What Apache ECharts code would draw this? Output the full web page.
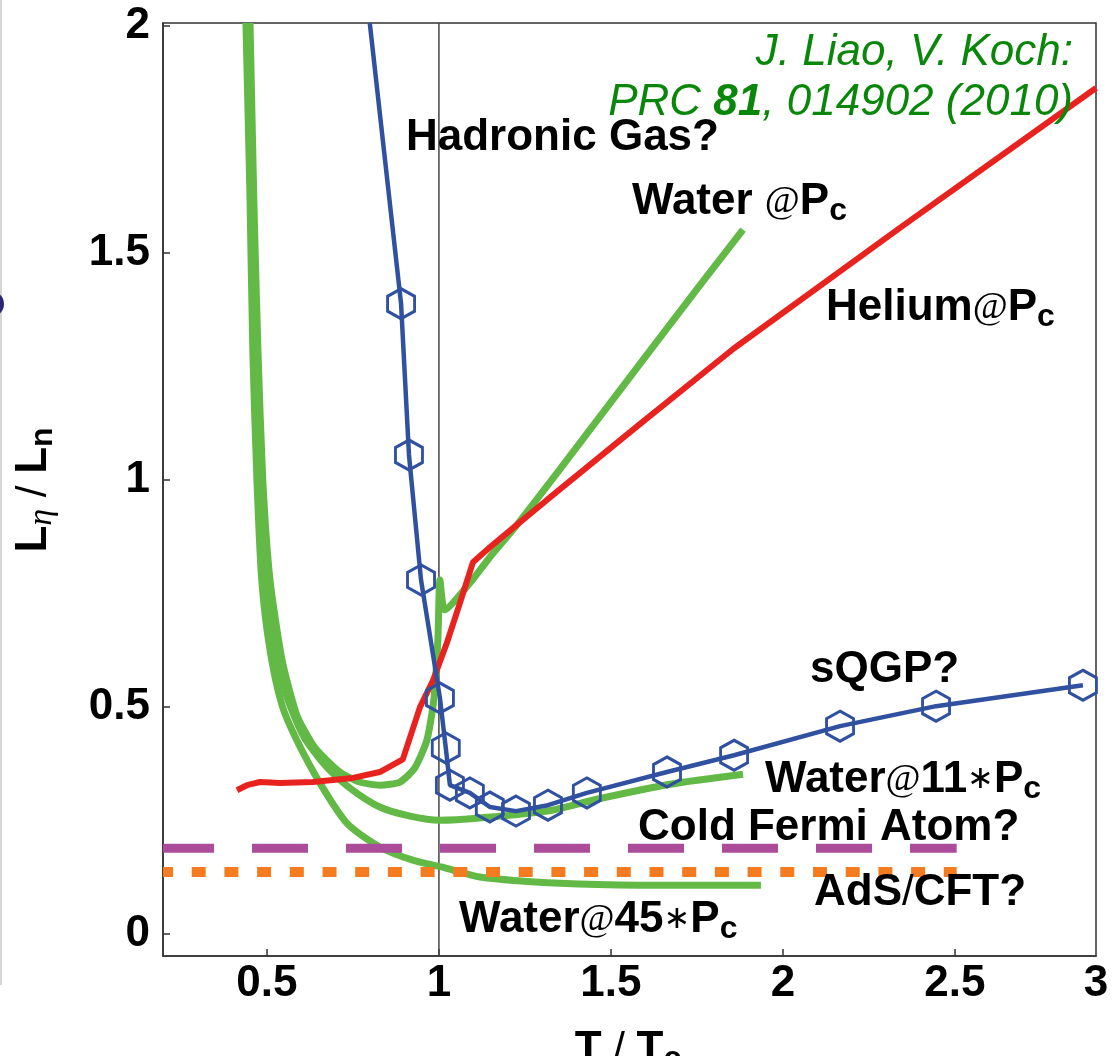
<!DOCTYPE html>
<html><head><meta charset="utf-8">
<script src="https://cdn.jsdelivr.net/npm/echarts@6/dist/echarts.min.js"></script>
<style>html,body{margin:0;padding:0;background:#fff}#c{width:1118px;height:1056px}</style>
</head><body><div id="c"></div>
<script>
// ---- axes ----
const X_MIN = 0.198, X_MAX = 2.91, Y_MIN = -0.048, Y_MAX = 2.006;
const X_TICKS = [0.5, 1, 1.5, 2, 2.5];
const X_LABEL_POS = [0.5, 1, 1.5, 2, 2.5, 2.91];
const X_LABELS = ['0.5', '1', '1.5', '2', '2.5', '3'];
const Y_TICKS = [0, 0.5, 1, 1.5, 2];
const Y_LABELS = ['0', '0.5', '1', '1.5', '2'];

// ---- Water @ Pc (green) ----
const waterPcX = [0.451, 0.462, 0.474, 0.488, 0.509, 0.544, 0.587, 0.640, 0.712, 0.770, 0.828, 0.887, 0.930, 0.965, 0.985, 0.997, 1.003, 1.017, 1.090, 1.148, 1.215, 1.352, 1.596, 1.759, 1.884];
const waterPcY = [2.006, 1.617, 1.286, 1.000, 0.780, 0.604, 0.482, 0.410, 0.357, 0.335, 0.328, 0.335, 0.366, 0.427, 0.515, 0.648, 0.780, 0.714, 0.773, 0.830, 0.890, 1.024, 1.267, 1.429, 1.551];

// ---- Water @ 11*Pc (green) ----
const water11X = [0.465, 0.477, 0.491, 0.515, 0.552, 0.605, 0.669, 0.741, 0.828, 0.916, 1.003, 1.119, 1.314, 1.459, 1.672, 1.884];
const water11Y = [1.291, 1.066, 0.846, 0.670, 0.537, 0.438, 0.372, 0.322, 0.280, 0.260, 0.251, 0.256, 0.271, 0.297, 0.330, 0.352];

// ---- Water @ 45*Pc (green) ----
const water45X = [0.439, 0.451, 0.459, 0.471, 0.485, 0.509, 0.544, 0.587, 0.654, 0.733, 0.828, 0.924, 1.023, 1.119, 1.352, 1.584, 1.936];
const water45Y = [2.006, 1.617, 1.286, 1.000, 0.780, 0.626, 0.504, 0.427, 0.333, 0.244, 0.192, 0.163, 0.145, 0.126, 0.112, 0.108, 0.108];

// ---- Helium @ Pc (red) ----
const heliumX = [0.413, 0.442, 0.480, 0.538, 0.634, 0.750, 0.828, 0.895, 0.945, 0.983, 1.023, 1.061, 1.099, 1.148, 1.215, 1.314, 1.584, 1.858, 2.340, 2.910];
const heliumY = [0.317, 0.328, 0.335, 0.333, 0.335, 0.344, 0.357, 0.385, 0.500, 0.559, 0.641, 0.729, 0.819, 0.852, 0.894, 0.956, 1.123, 1.290, 1.555, 1.863];

// ---- sQGP / Hadronic gas (blue, hexagon markers from index 1) ----
const qgpX = [0.799, 0.890, 0.913, 0.948, 1.003, 1.020, 1.032, 1.090, 1.148, 1.224, 1.317, 1.430, 1.663, 1.858, 2.166, 2.445, 2.872];
const qgpY = [2.006, 1.388, 1.055, 0.780, 0.520, 0.410, 0.328, 0.311, 0.280, 0.271, 0.284, 0.311, 0.357, 0.394, 0.458, 0.502, 0.548];

// ---- horizontal bounds ----
const coldFermi = 0.189;
const adsCft = 0.137;
const boundXEnd = 2.505;
const tcLine = 1;

const zip = (xs, ys) => xs.map((x, i) => [x, ys[i]]);

const GREEN = '#63b946', RED = '#e8231f', BLUE = '#3050a0', PURPLE = '#ad4b9b', ORANGE = '#f47b20';
const FONT = '"Liberation Sans", Arial, Helvetica, sans-serif';
const SERIF = '"Liberation Serif", "Times New Roman", serif';
const HEX = 'path://M0,-1 L0.866,-0.5 L0.866,0.5 L0,1 L-0.866,0.5 L-0.866,-0.5 Z';

const RICH = {
  b: { fontFamily: FONT, fontWeight: 'bold', fontSize: 44, lineHeight: 50, fill: '#000' },
  n: { fontFamily: FONT, fontWeight: 'normal', fontSize: 42, lineHeight: 50, fill: '#000' },
  at: { fontFamily: SERIF, fontWeight: 'normal', fontSize: 38, lineHeight: 50, fill: '#000' },
  ast: { fontFamily: '"DejaVu Sans", sans-serif', fontWeight: 'normal', fontSize: 32, lineHeight: 50, fill: '#000' },
  sub: { fontFamily: FONT, fontWeight: 'bold', fontSize: 32, lineHeight: 30, verticalAlign: 'bottom', fill: '#000' },
  eta: { fontFamily: SERIF, fontStyle: 'italic', fontWeight: 'normal', fontSize: 34, lineHeight: 28, verticalAlign: 'bottom', fill: '#000' },
  i: { fontFamily: FONT, fontStyle: 'italic', fontWeight: 'normal', fontSize: 44, lineHeight: 50, fill: '#0a870a' },
  ib: { fontFamily: FONT, fontStyle: 'italic', fontWeight: 'bold', fontSize: 44, lineHeight: 50, fill: '#0a870a' }
};

function label(x, baseline, text, align) {
  return {
    type: 'text', x: x, y: baseline - 15, z: 100,
    style: { text: text, rich: RICH, align: align || 'left', textAlign: align || 'left', verticalAlign: 'middle', textVerticalAlign: 'middle' }
  };
}

const chart = echarts.init(document.getElementById('c'), null, { renderer: 'canvas' });

const lineBase = { type: 'line', showSymbol: false, symbol: 'none', silent: true, clip: true };

chart.setOption({
  animation: false,
  backgroundColor: '#fff',
  grid: { left: 163, right: 22, top: 23, bottom: 100, show: true, borderColor: '#333', borderWidth: 1.5, containLabel: false },
  xAxis: {
    type: 'value', min: X_MIN, max: X_MAX,
    axisLine: { show: true, onZero: false, lineStyle: { color: '#333', width: 1.5 } },
    axisTick: { show: true, inside: true, length: 7, customValues: X_TICKS, lineStyle: { color: '#333', width: 1.5 } },
    axisLabel: {
      show: true, customValues: X_LABEL_POS, margin: 6,
      formatter: v => X_LABELS[X_LABEL_POS.indexOf(v)],
      fontFamily: FONT, fontWeight: 'bold', fontSize: 44, color: '#000'
    },
    splitLine: { show: false }
  },
  yAxis: {
    type: 'value', min: Y_MIN, max: Y_MAX,
    axisLine: { show: true, onZero: false, lineStyle: { color: '#333', width: 1.5 } },
    axisTick: { show: true, inside: true, length: 7, customValues: Y_TICKS, lineStyle: { color: '#333', width: 1.5 } },
    axisLabel: {
      show: true, customValues: Y_TICKS, margin: 13,
      formatter: v => Y_LABELS[Y_TICKS.indexOf(v)],
      fontFamily: FONT, fontWeight: 'bold', fontSize: 44, color: '#000'
    },
    splitLine: { show: false }
  },
  series: [
    Object.assign({}, lineBase, { name: 'Tc', data: [[tcLine, Y_MIN], [tcLine, Y_MAX]], lineStyle: { color: '#444', width: 1.5 }, z: 1 }),
    Object.assign({}, lineBase, { name: 'Water@45Pc', data: zip(water45X, water45Y), smooth: 0.25, lineStyle: { color: GREEN, width: 7 }, z: 2 }),
    Object.assign({}, lineBase, { name: 'Water@11Pc', data: zip(water11X, water11Y), smooth: 0.25, lineStyle: { color: GREEN, width: 7 }, z: 2 }),
    Object.assign({}, lineBase, { name: 'Water@Pc', data: zip(waterPcX, waterPcY), smooth: 0.2, lineStyle: { color: GREEN, width: 7 }, z: 2 }),
    Object.assign({}, lineBase, { name: 'Helium@Pc', data: zip(heliumX, heliumY), lineStyle: { color: RED, width: 6 }, z: 3 }),
    Object.assign({}, lineBase, { name: 'Cold Fermi', data: [[X_MIN, coldFermi], [boundXEnd, coldFermi]], lineStyle: { color: PURPLE, width: 9, type: [56, 38], dashOffset: 5, cap: 'butt' }, z: 4 }),
    Object.assign({}, lineBase, { name: 'AdS/CFT', data: [[X_MIN, adsCft], [boundXEnd, adsCft]], lineStyle: { color: ORANGE, width: 10, type: [14, 18.7], dashOffset: 4, cap: 'butt' }, z: 4 }),
    Object.assign({}, lineBase, { name: 'sQGP', data: zip(qgpX, qgpY), lineStyle: { color: BLUE, width: 4.5 }, z: 5 }),
    {
      type: 'scatter', name: 'sQGP points', silent: true, z: 6,
      data: zip(qgpX, qgpY).slice(1),
      symbol: HEX, symbolSize: [27, 30],
      itemStyle: { color: 'rgba(255,255,255,0)', borderColor: BLUE, borderWidth: 3, opacity: 1 }
    }
  ],
  graphic: [
    { type: 'rect', shape: { x: 0, y: 0, width: 2, height: 985 }, style: { fill: '#d6d6d6' }, z: 0 },
    { type: 'circle', shape: { cx: -9, cy: 304, r: 13 }, style: { fill: '#26267a' }, z: 0 },
    label(1073, 68, '{i|J. Liao, V. Koch:}', 'right'),
    label(1073, 118, '{i|PRC }{ib|81}{i|, 014902 (2010)}', 'right'),
    label(406, 153, '{b|Hadronic Gas?}'),
    label(632, 217, '{b|Water }{at|@}{b|P}{sub|c}'),
    label(826, 323, '{b|Helium}{at|@}{b|P}{sub|c}'),
    label(810, 685, '{b|sQGP?}'),
    label(765, 795, '{b|Water}{at|@}{b|11}{ast|∗}{b|P}{sub|c}'),
    label(638, 843, '{b|Cold Fermi Atom?}'),
    label(814, 908, '{b|AdS}{n|/}{b|CFT?}'),
    label(459, 935, '{b|Water}{at|@}{b|45}{ast|∗}{b|P}{sub|c}'),
    label(628, 1065, '{b|T}{n| / }{b|T}{sub|c}', 'center'),
    {
      type: 'text', x: 34, y: 490, rotation: Math.PI / 2, z: 100,
      style: { text: '{b|L}{eta|η}{n| / }{b|L}{sub|n}', rich: RICH, align: 'center', textAlign: 'center', verticalAlign: 'middle', textVerticalAlign: 'middle' }
    }
  ]
});
</script>
</body></html>
